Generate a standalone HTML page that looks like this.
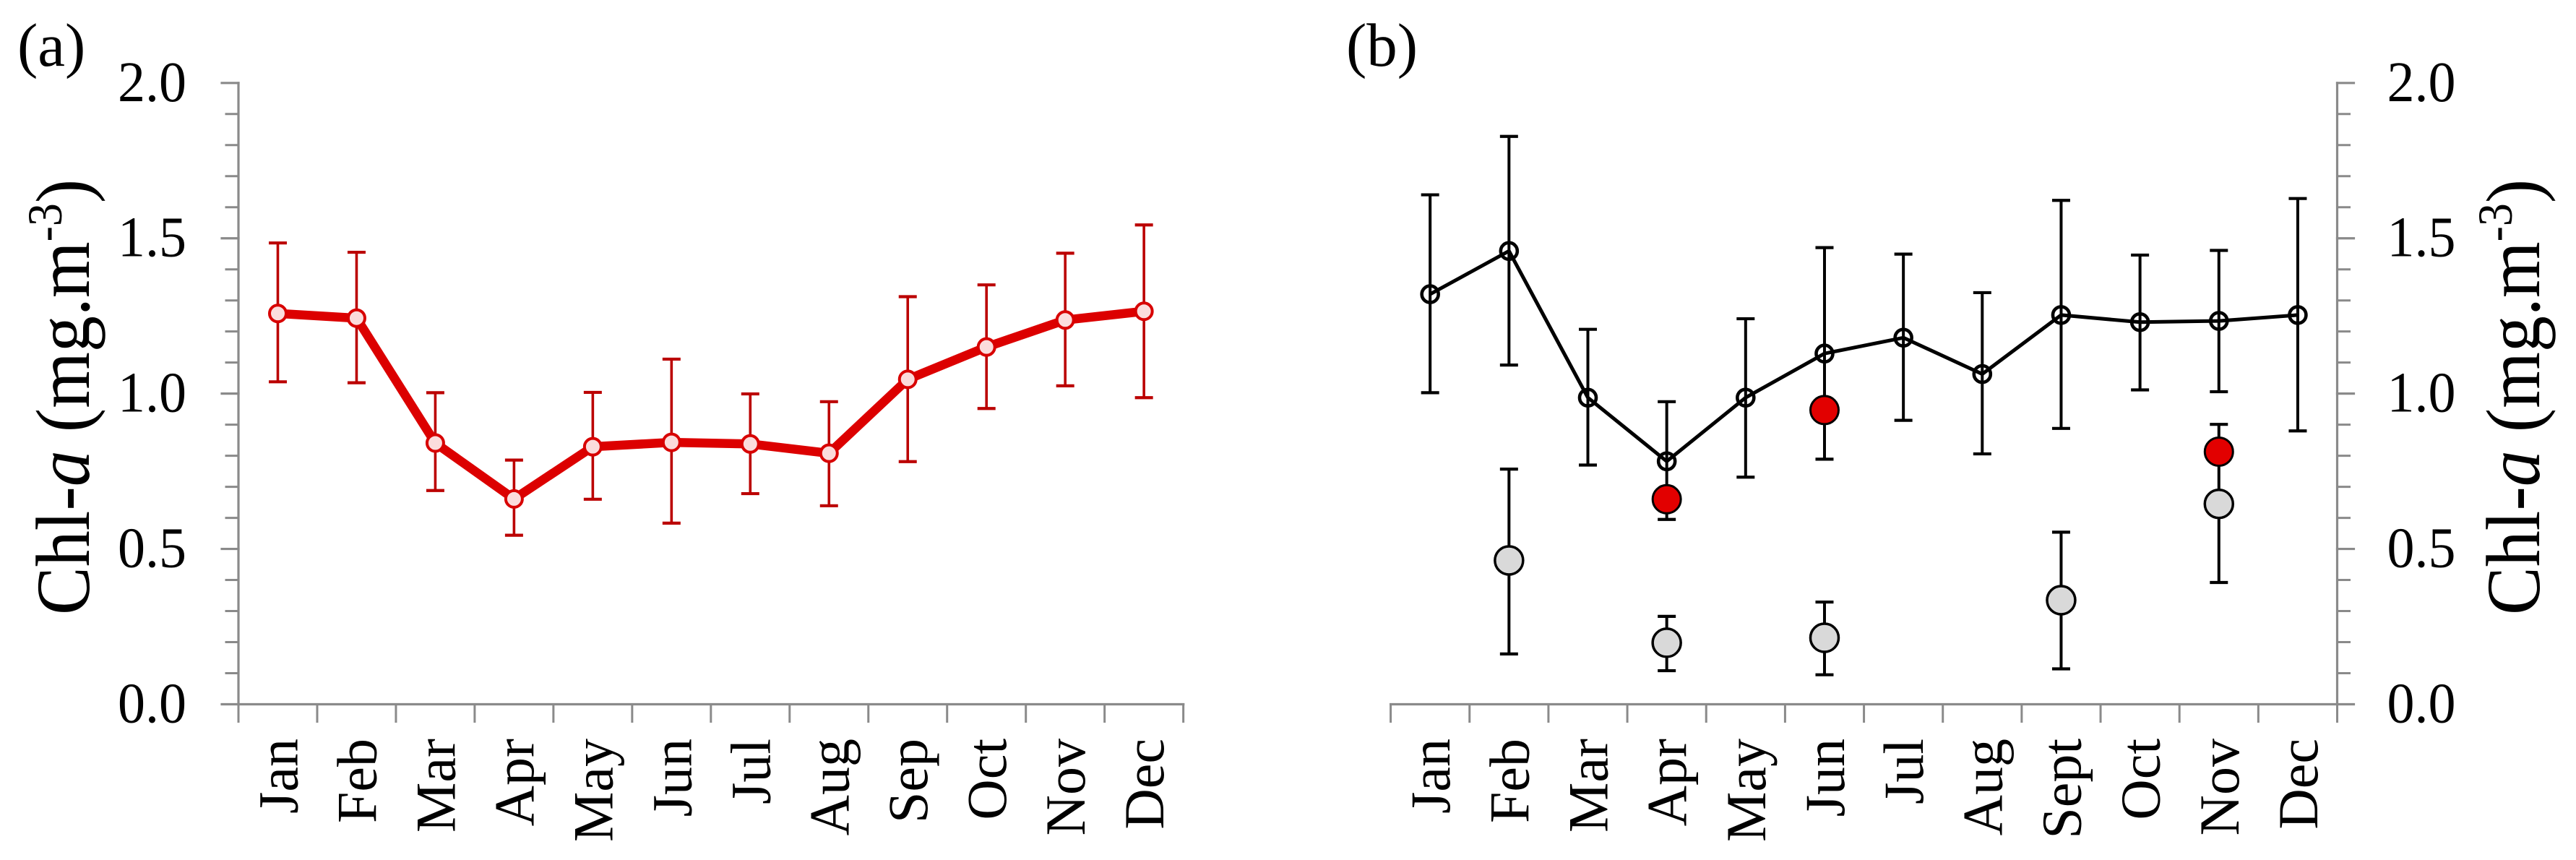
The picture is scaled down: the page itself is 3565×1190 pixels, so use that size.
<!DOCTYPE html>
<html lang="en">
<head>
<meta charset="utf-8">
<title>Monthly Chl-a concentration</title>
<style>
html,body{margin:0;padding:0;background:#fff;width:3565px;height:1190px;overflow:hidden}
svg{display:block;position:absolute;left:0;top:0}
text{font-family:"Liberation Serif","Times New Roman",serif;fill:#000}
</style>
</head>
<body>
<svg id="fig" xmlns="http://www.w3.org/2000/svg" width="3565" height="1190" viewBox="0 0 3565 1190">
  <rect x="0" y="0" width="3565" height="1190" fill="#fff"/>
  <text x="24" y="91" font-size="85">(a)</text>
  <text x="1863" y="91" font-size="85">(b)</text>
  <text transform="translate(123,851) rotate(-90) scale(1,1.06)" font-size="100">Chl-<tspan font-style="italic">a</tspan> (mg.m<tspan dy="-36" font-size="64">-3</tspan><tspan dy="36">)</tspan></text>
  <text transform="translate(3514,851) rotate(-90) scale(1,1.06)" font-size="100">Chl-<tspan font-style="italic">a</tspan> (mg.m<tspan dy="-36" font-size="64">-3</tspan><tspan dy="36">)</tspan></text>
  <g id="panelA"></g>
  <g id="panelB"></g>
</svg>
<script>
const monthsA = ['Jan','Feb','Mar','Apr','May','Jun','Jul','Aug','Sep','Oct','Nov','Dec'];
const monthsB = ['Jan','Feb','Mar','Apr','May','Jun','Jul','Aug','Sept','Oct','Nov','Dec'];
const yTickLabels = ['0.0','0.5','1.0','1.5','2.0'];
const yMinorTicks = [0.1,0.2,0.3,0.4,0.6,0.7,0.8,0.9,1.1,1.2,1.3,1.4,1.6,1.7,1.8,1.9];

const meanA  = [1.258,1.243,0.841,0.661,0.829,0.843,0.838,0.808,1.046,1.150,1.237,1.265];
const upperA = [1.485,1.455,1.003,0.786,1.004,1.111,0.999,0.974,1.312,1.350,1.452,1.543];
const lowerA = [1.038,1.035,0.688,0.544,0.660,0.583,0.678,0.639,0.781,0.952,1.025,0.987];

const meanB  = [1.320,1.459,0.987,0.782,0.987,1.129,1.180,1.063,1.253,1.230,1.234,1.253];
const upperB = [1.640,1.828,1.207,0.974,1.241,1.470,1.449,1.325,1.622,1.446,1.461,1.628];
const lowerB = [1.003,1.092,0.770,0.595,0.731,0.789,0.914,0.806,0.888,1.012,1.006,0.880];

const greyMean  = [null,0.463,null,0.198,null,0.214,null,null,0.335,null,0.645,null];
const greyUpper = [null,0.757,null,0.283,null,0.329,null,null,0.554,null,0.901,null];
const greyLower = [null,0.162,null,0.108,null,0.095,null,null,0.114,null,0.392,null];

const redMean = [null,null,null,0.660,null,0.947,null,null,null,null,0.813,null];

const SVGNS = 'http://www.w3.org/2000/svg';
const AXIS_COLOR = '#8a8a8a';

function yScale(v){ return 974.5 - v * 429.85; }
function xScaleA(i){ return 330 + (i + 0.5) * 108.97; }
function xScaleB(i){ return 1924.6 + (i + 0.5) * 109.16; }

function makeLine(parent, x1, y1, x2, y2, color, width){
  const el = document.createElementNS(SVGNS, 'line');
  el.setAttribute('x1', x1);
  el.setAttribute('y1', y1);
  el.setAttribute('x2', x2);
  el.setAttribute('y2', y2);
  el.setAttribute('stroke', color);
  el.setAttribute('stroke-width', width);
  el.setAttribute('stroke-linecap', 'square');
  parent.appendChild(el);
  return el;
}

function makeCircle(parent, x, y, r, fill, stroke, width){
  const el = document.createElementNS(SVGNS, 'circle');
  el.setAttribute('cx', x);
  el.setAttribute('cy', y);
  el.setAttribute('r', r);
  el.setAttribute('fill', fill);
  el.setAttribute('stroke', stroke);
  el.setAttribute('stroke-width', width);
  parent.appendChild(el);
  return el;
}

function makeText(parent, str, size, anchor){
  const el = document.createElementNS(SVGNS, 'text');
  el.setAttribute('font-size', size);
  el.setAttribute('text-anchor', anchor);
  el.textContent = str;
  parent.appendChild(el);
  return el;
}

function drawAxes(parent, prefix, xOf, months, axisX, xStart, xEnd, side){
  const major = side === 'left' ? -23 : 23;
  const minor = side === 'left' ? -17 : 17;

  const xAxis = makeLine(parent, xStart, yScale(0), xEnd, yScale(0), AXIS_COLOR, 3.2);
  
  

  const yAxis = makeLine(parent, axisX, yScale(2), axisX, yScale(0), AXIS_COLOR, 3.2);
  
  

  yTickLabels.forEach(function(label){
    const v = parseFloat(label);
    const t = makeLine(parent, axisX, yScale(v), axisX + major, yScale(v), AXIS_COLOR, 3.2);
    
    

    const txt = makeText(parent, label, 76, side === 'left' ? 'end' : 'start');
    const tx = side === 'left' ? axisX - 72 : axisX + 69;
    txt.setAttribute('transform', 'translate(' + tx + ',' + (yScale(v) + 25) + ') scale(1,1.04)');
    
    
  });

  yMinorTicks.forEach(function(v){
    const t = makeLine(parent, axisX, yScale(v), axisX + minor, yScale(v), AXIS_COLOR, 3);
    
    
  });

  const step = xOf(1) - xOf(0);
  for (let i = 0; i <= months.length; i++){
    const x = xOf(i) - step / 2;
    const t = makeLine(parent, x, yScale(0), x, yScale(0) + 24, AXIS_COLOR, 3);
    
    
  }

  months.forEach(function(m, i){
    const txt = makeText(parent, m, 78, 'end');
    txt.setAttribute('transform', 'translate(' + (xOf(i) + 27) + ',1022) rotate(-90)');
    
    
  });
}

function drawError(parent, name, x, up, low, color, stem){
  const s = makeLine(parent, x, yScale(up), x, yScale(low), color, stem);
  s.setAttribute('stroke-linecap', 'butt');
  
  

  const c1 = makeLine(parent, x - 12.5, yScale(up), x + 12.5, yScale(up), color, 4.2);
  c1.setAttribute('stroke-linecap', 'butt');
  
  

  const c2 = makeLine(parent, x - 12.5, yScale(low), x + 12.5, yScale(low), color, 4.2);
  c2.setAttribute('stroke-linecap', 'butt');
  
  
}

function drawSeriesLine(parent, name, xOf, values, color, width){
  const pts = values.map(function(v, i){ return xOf(i).toFixed(2) + ',' + yScale(v).toFixed(2); }).join(' ');
  const el = document.createElementNS(SVGNS, 'polyline');
  el.setAttribute('points', pts);
  el.setAttribute('fill', 'none');
  el.setAttribute('stroke', color);
  el.setAttribute('stroke-width', width);
  el.setAttribute('stroke-linejoin', 'round');
  
  
  parent.appendChild(el);
}

const panelA = document.getElementById('panelA');
const panelB = document.getElementById('panelB');

/* Panel (a) */
drawAxes(panelA, 'panel-a', xScaleA, monthsA, 330, 330, 1637.7, 'left');
meanA.forEach(function(v, i){
  drawError(panelA, 'panel-a-error-' + monthsA[i].toLowerCase(), xScaleA(i), upperA[i], lowerA[i], '#bb0000', 3.6);
});
drawSeriesLine(panelA, 'panel-a-mean-line', xScaleA, meanA, '#dc0000', 12.5);
meanA.forEach(function(v, i){
  const p = makeCircle(panelA, xScaleA(i), yScale(v), 11.5, '#fbdcdc', '#d80000', 4);
  
  
});

/* Panel (b) */
drawAxes(panelB, 'panel-b', xScaleB, monthsB, 3234.5, 1924.6, 3234.5, 'right');
meanB.forEach(function(v, i){
  drawError(panelB, 'panel-b-error-' + monthsB[i].toLowerCase(), xScaleB(i), upperB[i], lowerB[i], '#000', 4);
});
greyMean.forEach(function(v, i){
  if (v === null) return;
  drawError(panelB, 'panel-b-grey-error-' + monthsB[i].toLowerCase(), xScaleB(i), greyUpper[i], greyLower[i], '#000', 4);
});
drawSeriesLine(panelB, 'panel-b-mean-line', xScaleB, meanB, '#000', 5);
meanB.forEach(function(v, i){
  const p = makeCircle(panelB, xScaleB(i), yScale(v), 11.5, 'none', '#000', 4.6);
  
  
});
greyMean.forEach(function(v, i){
  if (v === null) return;
  const p = makeCircle(panelB, xScaleB(i), yScale(v), 19.5, '#d9d9d9', '#000', 3.5);
  
  
});
redMean.forEach(function(v, i){
  if (v === null) return;
  const p = makeCircle(panelB, xScaleB(i), yScale(v), 19.5, '#e20000', '#000', 3);
  
  
});
</script>
</body>
</html>
